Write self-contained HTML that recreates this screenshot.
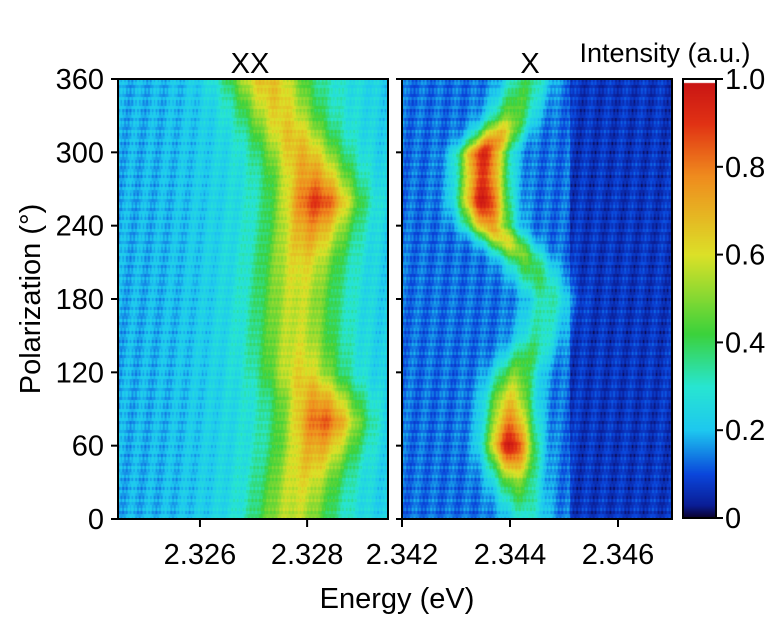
<!DOCTYPE html>
<html><head><meta charset="utf-8"><style>
body{margin:0;background:#fff;width:769px;height:618px;overflow:hidden;font-family:"Liberation Sans",sans-serif}
#wrap{position:relative;width:769px;height:618px}
canvas{position:absolute}
svg{position:absolute;left:0;top:0}
</style></head><body><div id="wrap">
<canvas id="cxx" width="270" height="440" style="left:118px;top:79px"></canvas>
<canvas id="cx" width="270" height="440" style="left:402px;top:79px"></canvas>
<canvas id="cb" width="33" height="439" style="left:683px;top:79px"></canvas>
<svg id="ov" width="769" height="618"></svg>
</div>
<script>
// data
const angles=[0,30,60,80,100,120,150,180,210,240,260,280,300,330,360];
const xxCenter=[2.3277,2.3279,2.3282,2.3283,2.3282,2.3279,2.3278,2.3278,2.3279,2.3281,2.3282,2.3281,2.3279,2.3275,2.3272];
const xxAmp=[0.25,0.3,0.42,0.55,0.42,0.32,0.27,0.27,0.32,0.45,0.6,0.45,0.38,0.33,0.38];
const xCenter=[2.3443,2.3441,2.3440,2.3440,2.3440,2.3441,2.3445,2.3447,2.3443,2.3436,2.3435,2.3435,2.3435,2.3440,2.3443];
const xAmp=[0.15,0.35,0.85,0.65,0.5,0.35,0.2,0.2,0.3,0.6,0.85,0.75,0.8,0.35,0.25];
const yTicks=[0,60,120,180,240,300,360];
const xxTicks=[2.326,2.328];
const xTicks=[2.342,2.344,2.346];
const cbTicks=[0,0.2,0.4,0.6,0.8,1.0];

const stops=[[0,[10,0,40]],[0.03,[10,30,150]],[0.1,[10,70,220]],[0.2,[30,200,240]],[0.3,[40,230,210]],[0.42,[60,210,60]],[0.6,[220,225,40]],[0.78,[240,140,30]],[0.9,[225,50,20]],[1,[200,20,20]]];
function cmap(v){v=Math.max(0,Math.min(1,v));for(let i=0;i<stops.length-1;i++){if(v<=stops[i+1][0]){const t=(v-stops[i][0])/(stops[i+1][0]-stops[i][0]);const a=stops[i][1],b=stops[i+1][1];return [a[0]+(b[0]-a[0])*t,a[1]+(b[1]-a[1])*t,a[2]+(b[2]-a[2])*t];}}return stops[stops.length-1][1];}
function interp(arr,a){for(let i=0;i<angles.length-1;i++){if(a<=angles[i+1]){const t=(a-angles[i])/(angles[i+1]-angles[i]);return arr[i]+(arr[i+1]-arr[i])*t;}}return arr[arr.length-1];}
const H=440,W=270;
const yScale=a=>440-a*440/360;
function tex(i,j){return 0.025*Math.sin(i*1.7)*Math.cos(j*0.9)+0.02*Math.sin(j*2.3)+0.02*Math.sin(i*0.37+j*0.11);}
function draw(id,e0,e1,cArr,aArr,bg,width){
 const c=document.getElementById(id).getContext('2d');const im=c.createImageData(W,H);
 for(let j=0;j<H;j++){const a=(H-j)/H*360;const cen=interp(cArr,a),amp=interp(aArr,a);
  for(let i=0;i<W;i++){const e=e0+(e1-e0)*i/W;const d=(e-cen)/width;
   let v=bg(e)+amp*Math.exp(-d*d/2)+tex(i,Math.floor(j/3));
   const col=cmap(v);const k=(j*W+i)*4;im.data[k]=col[0];im.data[k+1]=col[1];im.data[k+2]=col[2];im.data[k+3]=255;}}
 c.putImageData(im,0,0);}
draw('cxx',2.32447,2.32951,xxCenter,xxAmp,e=>{const d=(e-2.3278)/0.0011;return 0.18+0.13*Math.exp(-d*d/2);},0.0005);
draw('cx',2.342,2.347,xCenter,xAmp,e=>e<2.3451?0.13:0.07,0.0003);
(function(){const c=document.getElementById('cb').getContext('2d');for(let j=0;j<439;j++){const col=cmap(1-j/439);c.fillStyle=`rgb(${col[0]|0},${col[1]|0},${col[2]|0})`;c.fillRect(0,j,33,1);}c.fillStyle='#fff';c.fillRect(0,0,33,4);})();

const ns='http://www.w3.org/2000/svg',ov=document.getElementById('ov');
function el(t,at,txt){const e=document.createElementNS(ns,t);for(const k in at)e.setAttribute(k,at[k]);if(txt!==undefined)e.textContent=txt;ov.appendChild(e);return e;}
function frame(x,name){const r=el('rect',{x:x,y:79,width:270,height:440,fill:'none',stroke:'#000','stroke-width':2});
 
 }
frame(118,'xx-frame');frame(402,'x-frame');
const cbf=el('rect',{x:683,y:79,width:33,height:439,fill:'none',stroke:'#000','stroke-width':2});


const FS='29px';
yTicks.forEach(v=>{const y=79+yScale(v);
 el('line',{x1:111,x2:118,y1:y,y2:y,stroke:'#000','stroke-width':2});
 el('line',{x1:396,x2:402,y1:y,y2:y,stroke:'#000','stroke-width':2});
 const t=el('text',{x:104,y:y+10,'text-anchor':'end','font-size':FS},v);
 
 });
const xxS=e=>118+(e-2.32447)/(2.32951-2.32447)*270, xS=e=>402+(e-2.342)/0.005*270;
xxTicks.forEach(v=>{const x=xxS(v);el('line',{x1:x,x2:x,y1:519,y2:527,stroke:'#000','stroke-width':2});
 const t=el('text',{x:x,y:564,'text-anchor':'middle','font-size':FS},v.toFixed(3));
 
 });
xTicks.forEach(v=>{const x=xS(v);el('line',{x1:x,x2:x,y1:519,y2:527,stroke:'#000','stroke-width':2});
 const t=el('text',{x:x,y:564,'text-anchor':'middle','font-size':FS},v.toFixed(3));
 
 });
cbTicks.forEach(v=>{const y=518-v*439;el('line',{x1:716,x2:723,y1:y,y2:y,stroke:'#000','stroke-width':2});
 const t=el('text',{x:725,y:y+10,'font-size':FS},v===0?'0':v.toFixed(1));
 
 });
function lab(x,y,txt,name,extra){const t=el('text',Object.assign({x:x,y:y,'text-anchor':'middle','font-size':FS},extra||{}),txt);
 
 }
lab(250,73,'XX','xx-title');lab(530,73,'X','x-title');
lab(665,62,'Intensity (a.u.)','colorbar-title',{'font-size':'27px'});
lab(397,608,'Energy (eV)','x-axis-title');
lab(0,0,'Polarization (°)','y-axis-title',{transform:'translate(40,299) rotate(-90)'});
</script></body></html>
